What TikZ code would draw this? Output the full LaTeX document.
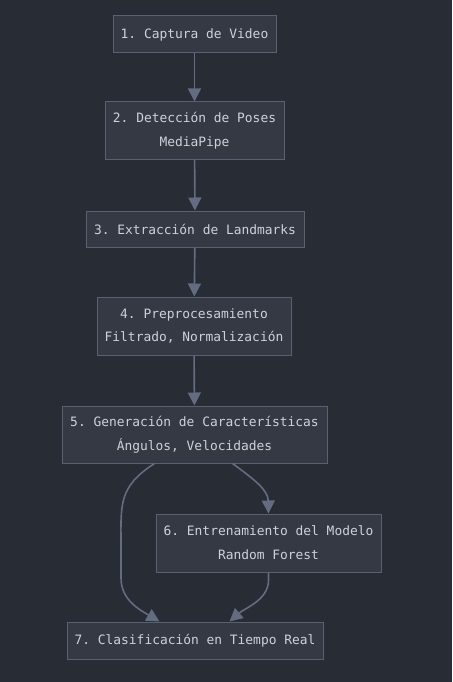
\documentclass[tikz,border=0pt]{standalone}
\usepackage{fontspec}
\setmonofont{DejaVu Sans Mono}
\usetikzlibrary{arrows.meta,calc}
\definecolor{bgc}{HTML}{282C34}
\definecolor{boxfill}{HTML}{353943}
\definecolor{boxline}{HTML}{596072}
\definecolor{edgec}{HTML}{646C82}
\definecolor{txtc}{HTML}{CDD2DA}
\tikzset{
  box/.style={draw=boxline, fill=boxfill, line width=1pt, text=txtc, align=center,
    font=\ttfamily\fontsize{12.9}{24}\selectfont, inner sep=0pt},
  flow/.style={draw=edgec, line width=1.6pt, -{Triangle[length=13pt,width=13pt]}},
}
\begin{document}
\begin{tikzpicture}[x=1pt,y=-1pt]
\fill[bgc] (0,0) rectangle (452,682);
\useasboundingbox (0,0) rectangle (452,682);
\node[box, minimum width=163pt, minimum height=37pt] (n1) at (194.5,34.5) {1. Captura de Video};
\node[box, minimum width=179pt, minimum height=57pt] (n2) at (194.5,130.5) {2. Detección de Poses\\MediaPipe};
\node[box, minimum width=218pt, minimum height=36pt] (n3) at (195,229) {3. Extracción de Landmarks};
\node[box, minimum width=194pt, minimum height=58pt] (n4) at (194,326) {4. Preprocesamiento\\Filtrado, Normalización};
\node[box, minimum width=265pt, minimum height=57pt] (n5) at (194.5,434.5) {5. Generación de Características\\Ángulos, Velocidades};
\node[box, minimum width=225pt, minimum height=58pt] (n6) at (268.5,543) {6. Entrenamiento del Modelo\\Random Forest};
\node[box, minimum width=256pt, minimum height=37pt] (n7) at (195,640.5) {7. Clasificación en Tiempo Real};
\draw[flow] (n1) -- (n2);
\draw[flow] (n2) -- (n3);
\draw[flow] (n3) -- (n4);
\draw[flow] (n4) -- (n5);
\coordinate (a5) at ($(n5.south west)+(93,0)$);
\coordinate (b5) at ($(n5.south west)+(171,0)$);
\coordinate (a7) at ($(n7.north west)+(93,0)$);
\coordinate (b7) at ($(n7.north west)+(163,0)$);
\draw[flow] (a5) .. controls (118,487) and (121,505) .. (121,545) -- (121,578) .. controls (121,600) and (140,610) .. (a7);
\draw[flow] (b5) .. controls (255,480) and (268,490) .. (n6.north);
\draw[flow] (n6.south) -- (268.5,580) .. controls (268.5,600) and (245,608) .. (b7);
\end{tikzpicture}
\end{document}
